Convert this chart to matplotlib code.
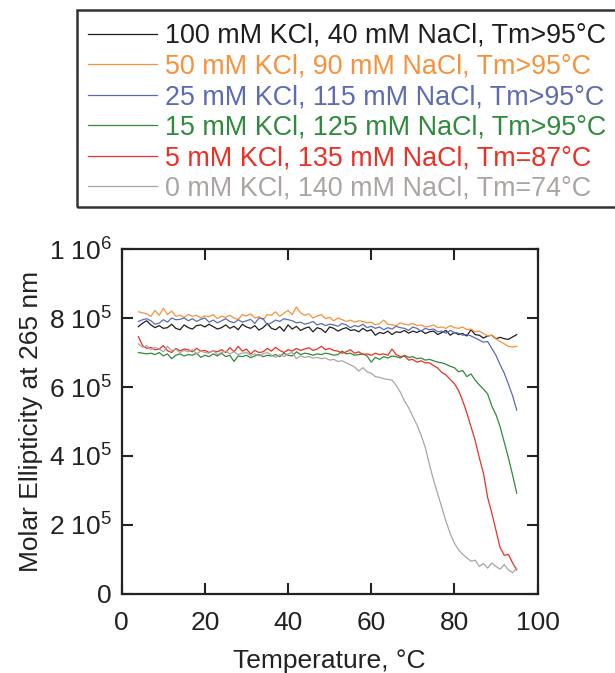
import numpy as np
import matplotlib
matplotlib.use("Agg")
from matplotlib import pyplot as plt
from matplotlib.patches import Rectangle

plt.rcParams["font.family"] = ["Liberation Sans", "DejaVu Sans"]
plt.rcParams["mathtext.default"] = "regular"

# temperature grid (deg C), one reading per degree
temperature = np.arange(4, 96)

# molar ellipticity at 265 nm, in units of 1e5
kcl_100 = [
    7.75, 7.85, 7.92, 7.80, 7.72, 7.78, 7.70, 7.72, 7.82, 7.70,
    7.66, 7.80, 7.72, 7.68, 7.78, 7.80, 7.74, 7.82, 7.75, 7.68,
    7.72, 7.80, 7.70, 7.76, 7.66, 7.82, 7.74, 7.70, 7.78, 7.65,
    7.72, 7.84, 7.70, 7.66, 7.75, 7.62, 7.80, 7.68, 7.76, 7.64,
    7.70, 7.74, 7.60, 7.72, 7.68, 7.58, 7.74, 7.70, 7.62, 7.68,
    7.72, 7.64, 7.66, 7.60, 7.70, 7.62, 7.66, 7.50, 7.58, 7.55,
    7.62, 7.52, 7.60, 7.58, 7.64, 7.56, 7.62, 7.58, 7.64, 7.55,
    7.60, 7.62, 7.52, 7.58, 7.64, 7.50, 7.58, 7.52, 7.55, 7.48,
    7.66, 7.52, 7.50, 7.42, 7.48, 7.50, 7.40, 7.44, 7.40, 7.38,
    7.45, 7.52,
]
kcl_50 = [
    8.18, 8.15, 8.12, 8.05, 8.22, 8.08, 8.28, 8.10, 8.20, 8.05,
    8.08, 8.02, 8.10, 8.05, 8.08, 8.00, 8.06, 8.04, 8.10, 7.98,
    8.05, 8.02, 8.08, 8.00, 7.96, 8.10, 8.06, 8.12, 8.00, 8.04,
    7.95, 8.10, 8.08, 8.18, 8.05, 8.14, 8.22, 8.10, 8.32, 8.15,
    8.08, 8.12, 8.00, 8.06, 8.10, 7.98, 8.02, 7.92, 8.00, 7.95,
    7.90, 7.94, 7.88, 7.92, 7.90, 7.86, 7.88, 7.80, 7.84, 7.94,
    7.82, 7.80, 7.78, 7.86, 7.82, 7.80, 7.84, 7.78, 7.80, 7.74,
    7.76, 7.80, 7.72, 7.74, 7.70, 7.78, 7.72, 7.70, 7.74, 7.66,
    7.68, 7.60, 7.62, 7.55, 7.48, 7.50, 7.40, 7.32, 7.25, 7.18,
    7.16, 7.18,
]
kcl_25 = [
    7.90, 7.95, 7.98, 7.92, 7.82, 7.85, 7.95, 7.88, 8.00, 7.95,
    7.96, 8.00, 7.92, 7.98, 7.90, 7.96, 8.00, 7.88, 7.94, 7.86,
    7.92, 7.98, 7.90, 7.86, 7.95, 7.88, 7.92, 7.96, 7.84, 8.00,
    7.98, 7.80, 7.86, 7.94, 7.90, 7.98, 7.95, 7.92, 7.86, 7.88,
    7.82, 7.85, 7.90, 7.80, 7.84, 7.78, 7.82, 7.80, 7.76, 7.84,
    7.80, 7.72, 7.78, 7.75, 7.82, 7.72, 7.76, 7.70, 7.74, 7.66,
    7.72, 7.68, 7.76, 7.72, 7.70, 7.64, 7.74, 7.70, 7.62, 7.70,
    7.66, 7.68, 7.60, 7.62, 7.56, 7.64, 7.58, 7.56, 7.50, 7.52,
    7.48, 7.42, 7.36, 7.30, 7.32, 7.12, 6.92, 6.65, 6.40, 6.08,
    5.75, 5.33,
]
kcl_15 = [
    7.00, 6.98, 6.96, 6.98, 6.94, 7.00, 6.90, 6.96, 6.82, 6.92,
    6.96, 6.90, 6.94, 6.92, 6.98, 6.86, 6.92, 6.88, 6.96, 6.90,
    6.98, 6.88, 6.92, 6.74, 6.90, 6.88, 6.92, 6.85, 6.90, 6.94,
    6.88, 6.92, 6.90, 6.94, 6.88, 6.98, 6.92, 6.90, 7.02, 6.94,
    6.98, 6.96, 6.92, 6.96, 6.94, 6.98, 6.96, 6.92, 6.94, 7.04,
    6.96, 6.98, 6.92, 6.94, 6.96, 6.90, 6.72, 6.86, 6.80, 6.88,
    6.84, 6.90, 6.88, 6.84, 6.92, 6.86, 6.88, 6.82, 6.84, 6.78,
    6.80, 6.76, 6.72, 6.70, 6.66, 6.60, 6.56, 6.44, 6.48, 6.30,
    6.38, 6.20, 6.06, 5.94, 5.80, 5.45, 5.20, 4.85, 4.40, 3.95,
    3.45, 2.92,
]
kcl_5 = [
    7.46, 7.20, 7.12, 7.15, 7.08, 7.10, 7.20, 7.05, 7.00, 7.12,
    7.05, 7.10, 7.08, 7.02, 7.12, 7.04, 7.06, 7.00, 7.05, 7.02,
    7.08, 7.00, 7.14, 7.02, 7.18, 7.04, 7.10, 6.96, 7.06, 7.00,
    7.02, 7.12, 7.04, 7.15, 7.06, 7.00, 7.08, 7.04, 7.12, 7.06,
    7.10, 7.14, 7.06, 7.10, 7.18, 7.08, 7.12, 7.06, 7.04, 6.98,
    7.02, 7.08, 6.98, 7.02, 6.94, 6.96, 6.92, 6.98, 6.94, 6.96,
    6.92, 7.10, 6.94, 6.88, 6.90, 6.78, 6.80, 6.72, 6.76, 6.70,
    6.70, 6.62, 6.55, 6.42, 6.35, 6.22, 6.10, 5.90, 5.60, 5.25,
    4.85, 4.45, 3.95, 3.50, 2.80, 2.35, 1.85, 1.35, 1.12, 1.15,
    0.90, 0.70,
]
kcl_0 = [
    7.25, 7.15, 7.20, 7.08, 7.15, 7.10, 7.02, 7.18, 7.05, 7.10,
    7.00, 7.06, 7.02, 7.08, 6.96, 7.04, 7.00, 6.98, 7.06, 6.94,
    7.00, 7.04, 6.96, 7.02, 6.94, 6.98, 7.00, 6.92, 6.96, 6.90,
    6.96, 7.00, 6.92, 6.86, 6.94, 6.88, 6.96, 7.00, 6.82, 6.90,
    6.86, 6.88, 6.84, 6.86, 6.82, 6.84, 6.78, 6.80, 6.74, 6.76,
    6.70, 6.64, 6.58, 6.46, 6.56, 6.44, 6.40, 6.30, 6.28, 6.24,
    6.22, 6.20, 6.05, 5.85, 5.60, 5.40, 5.15, 4.90, 4.60, 4.25,
    3.75, 3.30, 2.90, 2.50, 2.10, 1.75, 1.48, 1.28, 1.15, 1.05,
    0.95, 0.98, 0.80, 0.88, 0.75, 0.90, 0.80, 0.72, 0.85, 0.70,
    0.62, 0.75,
]

labels = [
    "100 mM KCl, 40 mM NaCl, Tm>95°C",
    "50 mM KCl, 90 mM NaCl, Tm>95°C",
    "25 mM KCl, 115 mM NaCl, Tm>95°C",
    "15 mM KCl, 125 mM NaCl, Tm>95°C",
    "5 mM KCl, 135 mM NaCl, Tm=87°C",
    "0 mM KCl, 140 mM NaCl, Tm=74°C",
]
colors = ["#1e1e1e", "#f7923a", "#5c6bb4", "#2f8a3c", "#ee2f24", "#aaa5a2"]

y_ticks = [0, 2e5, 4e5, 6e5, 8e5, 1e6]
y_tick_labels = ["0", "2 10$^5$", "4 10$^5$", "6 10$^5$", "8 10$^5$", "1 10$^6$"]
x_ticks = [0, 20, 40, 60, 80, 100]

fig = plt.figure(figsize=(6.15, 6.73), dpi=100)
ax = fig.add_axes([0.198, 0.1174, 0.676, 0.5126])

series = [kcl_100, kcl_50, kcl_25, kcl_15, kcl_5, kcl_0]
for vals, color, label in zip(series, colors, labels):
    ax.plot(temperature, np.array(vals) * 1e5, color=color, lw=0.9, label=label)

ax.set_xlim(0, 100)
ax.set_ylim(0, 1e6)
ax.set_xticks(x_ticks)
ax.set_yticks(y_ticks)
ax.set_yticklabels(y_tick_labels)
ax.tick_params(direction="in", length=8, width=1.5, top=True, right=True,
               labelsize=19, colors="#222222", labelcolor="#222222")
ax.tick_params(axis="x", pad=12)
ax.tick_params(axis="y", pad=7)
for s in ax.spines.values():
    s.set_linewidth(1.6)
    s.set_color("#222222")
ax.set_xlabel("Temperature, °C", fontsize=19, color="#222222", labelpad=10)
ax.set_ylabel("Molar Ellipticity at 265 nm", fontsize=19, color="#222222", labelpad=4)

# legend box at the top, running off the right edge
fig.patches.append(Rectangle((77 / 615, 1 - 206.5 / 673), 560 / 615, 196 / 673,
                             transform=fig.transFigure, fill=False,
                             lw=1.8, ec="#333333"))
leg = fig.legend(loc="upper left", bbox_to_anchor=(88 / 615, 1 - 23 / 673),
                 frameon=False, fontsize=19.4, handlelength=2.55, handletextpad=0.3,
                 labelspacing=0.17, borderaxespad=0, borderpad=0,
                 labelcolor="linecolor")

fig.savefig("out.png", dpi=100)
